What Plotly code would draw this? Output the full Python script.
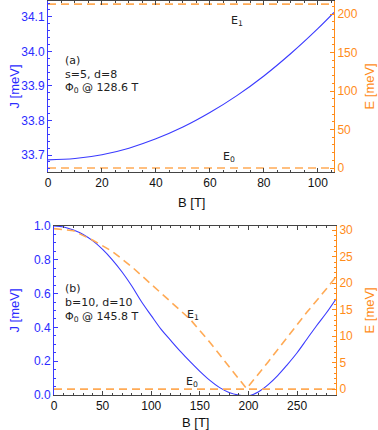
import plotly.graph_objects as go

# (a) s=5, d=8
b_a = [0, 10, 20, 30, 40, 50, 60, 70, 80, 90, 100, 106]
j_a = [33.686, 33.690, 33.701, 33.720, 33.747, 33.781, 33.823, 33.872, 33.929, 33.994, 34.066, 34.113]
b_a_lev = [0, 106]
e0_a = [0, 0]
e1_a = [213, 213]

# (b) b=10, d=10
b_b = [0, 10, 20, 30, 40, 50, 60, 70, 80, 90, 100, 110, 120, 130, 140, 150,
       160, 170, 180, 190, 200, 210, 220, 230, 240, 250, 260, 270, 280, 290]
j_b = [1.0, 0.994, 0.976, 0.95, 0.912, 0.862, 0.80, 0.728, 0.645, 0.552, 0.47, 0.39,
       0.323, 0.258, 0.197, 0.14, 0.088, 0.045, 0.015, 0.0, -0.005, 0.018, 0.06,
       0.115, 0.18, 0.25, 0.33, 0.41, 0.485, 0.568]
b_b_e1 = [0, 20, 40, 60, 80, 100, 120, 140, 160, 180, 198, 220, 240, 260, 280, 290]
e1_b = [30.3, 29.9, 28.1, 26.0, 23.1, 19.8, 16.6, 13.2, 8.9, 4.3, 0.1, 5.1, 9.9, 14.5, 18.9, 21.2]
b_b_lev = [0, 290]
e0_b = [0, 0]

BLUE = "#3a3aff"
BLUE_TXT = "#2b2bff"
ORANGE = "#ff8c1a"
ORANGE_DASH = "#ffaa55"
FRAME = "#444444"
W, H = 378, 430

fig = go.Figure()
dash = dict(color=ORANGE_DASH, width=1.6, dash="8px,5px")

fig.add_trace(go.Scatter(x=b_a, y=j_a, mode="lines", line=dict(color=BLUE, width=1.1, shape="spline"),
                         xaxis="x", yaxis="y"))
fig.add_trace(go.Scatter(x=b_a_lev, y=e1_a, mode="lines", line=dash, xaxis="x", yaxis="y2"))
fig.add_trace(go.Scatter(x=b_a_lev, y=e0_a, mode="lines", line=dash, xaxis="x", yaxis="y2"))

fig.add_trace(go.Scatter(x=b_b, y=j_b, mode="lines", line=dict(color=BLUE, width=1.1, shape="spline"),
                         xaxis="x2", yaxis="y3"))
fig.add_trace(go.Scatter(x=b_b_e1, y=e1_b, mode="lines", line=dash, xaxis="x2", yaxis="y4"))
fig.add_trace(go.Scatter(x=b_b_lev, y=e0_b, mode="lines", line=dash, xaxis="x2", yaxis="y4"))

tickfont = dict(family="Liberation Sans, Arial", size=12)
titlefont = dict(family="Liberation Sans, Arial", size=13)


def xax(domain, rng, dt, mdt, anchor):
    return dict(domain=domain, range=rng, anchor=anchor, dtick=dt, tick0=0, automargin=False,
                showline=True, linecolor=FRAME, linewidth=1, mirror="ticks",
                ticks="inside", ticklen=4, tickcolor=FRAME, showgrid=False, zeroline=False,
                tickfont=dict(tickfont, color="#111"),
                minor=dict(ticks="inside", ticklen=2, dtick=mdt, tickcolor=FRAME, showgrid=False))


def yax(domain, rng, dt, mdt, anchor, side, color, txtcolor, fmt="", overlay=None, t0=0):
    d = dict(domain=domain, range=rng, anchor=anchor, side=side, dtick=dt, tick0=t0,
             automargin=False, tickformat=fmt,
             showline=True, linecolor=color, linewidth=1,
             ticks="inside", ticklen=4, tickcolor=color, showgrid=False, zeroline=False,
             tickfont=dict(tickfont, color=txtcolor),
             minor=dict(ticks="inside", ticklen=2, dtick=mdt, tickcolor=color, showgrid=False))
    if overlay:
        d["overlaying"] = overlay
    return d


ya_dom = [1 - 172 / H, 1 - 1 / H]
yb_dom = [1 - 395 / H, 1 - 226 / H]

fig.update_layout(
    width=W, height=H,
    margin=dict(l=0, r=0, t=0, b=0, autoexpand=False),
    paper_bgcolor="white", plot_bgcolor="white",
    showlegend=False,
    xaxis=xax([48 / W, 334 / W], [0, 106], 20, 5, "y"),
    yaxis=yax(ya_dom, [33.651, 34.146], 0.1, 0.02, "x", "left", BLUE, BLUE_TXT, ".1f", t0=33.7),
    yaxis2=yax(ya_dom, [-5.2, 217], 50, 10, "x", "right", ORANGE, ORANGE, overlay="y"),
    xaxis2=xax([54 / W, 336 / W], [0, 290], 50, 10, "y3"),
    yaxis3=yax(yb_dom, [0, 1], 0.2, 0.05, "x2", "left", BLUE, BLUE_TXT, ".1f"),
    yaxis4=yax(yb_dom, [-1.1, 30.8], 5, 1, "x2", "right", ORANGE, ORANGE, overlay="y3"),
)

# axis titles
axis_titles = [
    ("J [meV]", 14, 86.5, -90, BLUE_TXT),
    ("E [meV]", 369, 86.5, -90, ORANGE),
    ("B [T]", 191, 202, 0, "#111"),
    ("J [meV]", 14, 310.5, -90, BLUE_TXT),
    ("E [meV]", 369, 310.5, -90, ORANGE),
    ("B [T]", 195, 422, 0, "#111"),
]
for t, xp, yp, ang, col in axis_titles:
    fig.add_annotation(text=t, x=xp / W, y=1 - yp / H, xref="paper", yref="paper",
                       xanchor="center", yanchor="middle", textangle=ang, showarrow=False,
                       font=dict(titlefont, color=col))

note = dict(family="DejaVu Sans", size=11, color="#222")
texts = [
    ("(a)", 61), ("s=5, d=8", 74), ("Φ<sub>0</sub> @ 128.6 T", 88),
    ("(b)", 288), ("b=10, d=10", 302), ("Φ<sub>0</sub> @ 145.8 T", 317),
]
for t, ypx in texts:
    fig.add_annotation(text=t, x=63 / W, y=1 - ypx / H, xref="paper", yref="paper",
                       xanchor="left", yanchor="middle", showarrow=False, font=note)

levels = [
    ("E<sub>1</sub>", 70, 191, "x", "y2"),
    ("E<sub>0</sub>", 67, 14, "x", "y2"),
    ("E<sub>1</sub>", 143, 14, "x2", "y4"),
    ("E<sub>0</sub>", 142, 1.4, "x2", "y4"),
]
for t, xv, yv, xr, yr in levels:
    fig.add_annotation(text=t, x=xv, y=yv, xref=xr, yref=yr, showarrow=False, font=note)

# the page body has a default 8px margin; remove it so the figure fills the window
fig.write_html("out.html", config={"displayModeBar": False},
               post_script="document.body.style.margin='0';")
